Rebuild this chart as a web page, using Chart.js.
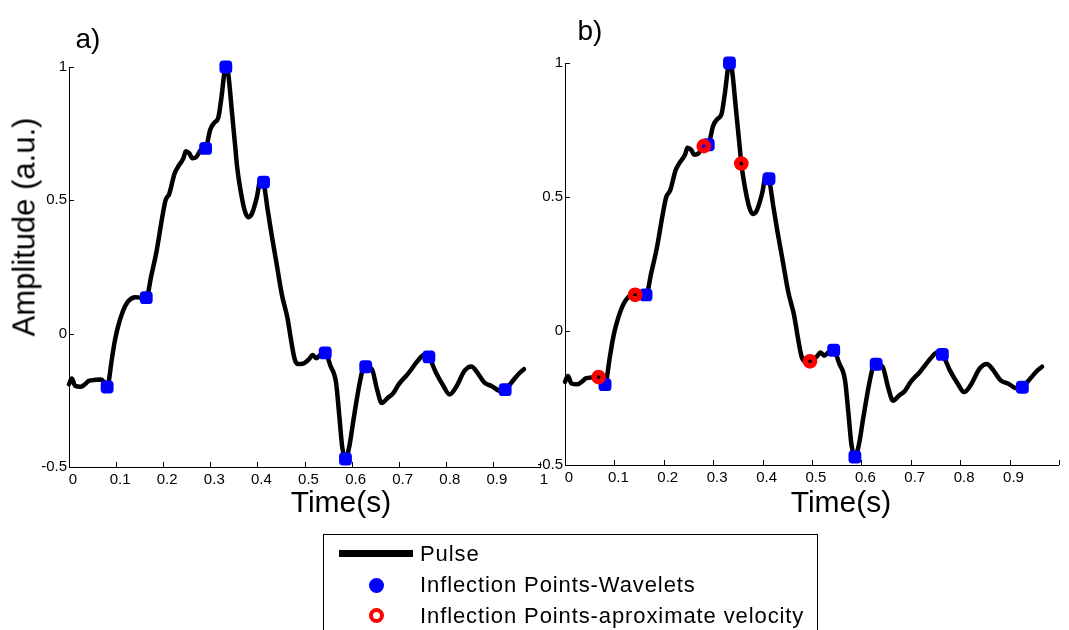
<!DOCTYPE html>
<html>
<head>
<meta charset="utf-8">
<script src="https://cdn.jsdelivr.net/npm/chart.js@4/dist/chart.umd.min.js"></script>
<style>
  body { margin: 0; background: #fff; }
  #wrap { position: relative; width: 1069px; height: 630px; overflow: hidden; font-family: Arial, "Liberation Sans", sans-serif; color: #000; }
  canvas { position: absolute; left: 0; top: 0; }
  .lbl { position: absolute; line-height: 1; white-space: nowrap; transform: translate(-50%, -50%); }
  #legend { position: absolute; left: 323px; top: 534px; width: 495px; height: 120px; border: 1.5px solid #000; box-sizing: border-box; }
  .row { position: absolute; left: 96px; font-size: 22px; letter-spacing: 0.9px; line-height: 1; transform: translateY(-50%); }
  .sw { position: absolute; }
</style>
</head>
<body>
<div id="wrap">
  <canvas id="chartA" width="1069" height="630"></canvas>
  <canvas id="chartB" width="1069" height="630"></canvas>

  <div class="lbl" style="left:88px; top:39px; font-size:28px;">a)</div>
  <div class="lbl" style="left:590px; top:31px; font-size:28px;">b)</div>
  <div class="lbl" style="left:24px; top:227px; font-size:31px; transform: translate(-50%, -50%) rotate(-90deg);">Amplitude (a.u.)</div>
  <div class="lbl" style="left:341px; top:502px; font-size:30px;">Time(s)</div>
  <div class="lbl" style="left:841px; top:502px; font-size:30px;">Time(s)</div>

  <div id="legend">
    <div class="sw" style="left:15px; top:15px; width:74px; height:7px; background:#000;"></div>
    <div class="row" style="top:19px;">Pulse</div>
    <div class="sw" style="left:45px; top:43px; width:15px; height:15px; border-radius:50%; background:#0000ff;"></div>
    <div class="row" style="top:50px;">Inflection Points-Wavelets</div>
    <div class="sw" style="left:45px; top:73px; width:15px; height:15px; border-radius:50%; border:4px solid #ff0000; box-sizing:border-box;"></div>
    <div class="row" style="top:81px;">Inflection Points-aproximate velocity</div>
  </div>
</div>

<script>
// Pulse waveform (time in s, amplitude in a.u.)
const pulseTime = [
  0.000, 0.006, 0.013, 0.025, 0.035, 0.042, 0.057, 0.068, 0.074, 0.081,
  0.091, 0.097, 0.103, 0.114, 0.125, 0.141, 0.152, 0.164, 0.175, 0.186,
  0.198, 0.205, 0.213, 0.224, 0.232, 0.243, 0.248, 0.255, 0.262, 0.270,
  0.281, 0.290, 0.300, 0.308, 0.317, 0.323, 0.333, 0.338, 0.346, 0.353,
  0.357, 0.363, 0.373, 0.380, 0.388, 0.399, 0.407, 0.413, 0.422, 0.430,
  0.441, 0.452, 0.464, 0.471, 0.479, 0.487, 0.496, 0.510, 0.517, 0.525,
  0.532, 0.544, 0.555, 0.567, 0.574, 0.580, 0.587, 0.595, 0.604, 0.616,
  0.624, 0.630, 0.643, 0.654, 0.664, 0.677, 0.688, 0.700, 0.719, 0.741,
  0.753, 0.764, 0.779, 0.795, 0.808, 0.821, 0.840, 0.854, 0.867, 0.882,
  0.897, 0.916, 0.926, 0.939, 0.954, 0.966
];
const pulseAmp = [
  -0.190, -0.168, -0.196, -0.199, -0.188, -0.177, -0.173, -0.172, -0.180, -0.200,
  -0.095, -0.030, 0.019, 0.082, 0.120, 0.137, 0.135, 0.135, 0.220, 0.310,
  0.437, 0.500, 0.525, 0.600, 0.627, 0.658, 0.684, 0.677, 0.658, 0.662,
  0.690, 0.695, 0.766, 0.790, 0.810, 0.877, 1.000, 0.975, 0.830, 0.700,
  0.625, 0.550, 0.462, 0.437, 0.449, 0.513, 0.582, 0.568, 0.462, 0.373,
  0.260, 0.146, 0.057, -0.019, -0.095, -0.114, -0.113, -0.095, -0.080, -0.092,
  -0.082, -0.072, -0.120, -0.184, -0.310, -0.424, -0.470, -0.424, -0.323, -0.196,
  -0.133, -0.124, -0.133, -0.209, -0.260, -0.240, -0.224, -0.190, -0.152, -0.101,
  -0.080, -0.087, -0.146, -0.196, -0.228, -0.203, -0.139, -0.123, -0.146, -0.184,
  -0.196, -0.215, -0.210, -0.184, -0.152, -0.133
];

// Inflection points found with wavelets (both panels)
const waveletTime = [0.081, 0.164, 0.290, 0.333, 0.413, 0.544, 0.587, 0.630, 0.764, 0.926];
const waveletAmp = [-0.200, 0.135, 0.695, 1.000, 0.568, -0.072, -0.470, -0.124, -0.087, -0.210];

// Inflection points from approximate velocity (panel b only)
const velocityTime = [0.068, 0.142, 0.281, 0.357, 0.496];
const velocityAmp = [-0.172, 0.135, 0.690, 0.625, -0.113];

// Axis ticks
const xTicks = [0, 0.1, 0.2, 0.3, 0.4, 0.5, 0.6, 0.7, 0.8, 0.9, 1];
const yTicks = [-0.5, 0, 0.5, 1];

const toPoints = (xs, ys) => xs.map((x, i) => ({ x: x, y: ys[i] }));

// Matlab style tick marks pointing into the plot
const inwardTicks = {
  id: "inwardTicks",
  afterDraw(chart) {
    const { ctx, chartArea } = chart;
    const xs = chart.scales.x;
    const ys = chart.scales.y;
    ctx.save();
    ctx.strokeStyle = "#000";
    ctx.lineWidth = 1;
    ctx.beginPath();
    xs.ticks.forEach((t) => {
      const px = Math.round(xs.getPixelForValue(t.value)) + 0.5;
      ctx.moveTo(px, chartArea.bottom);
      ctx.lineTo(px, chartArea.bottom - 5);
    });
    ys.ticks.forEach((t) => {
      const py = Math.round(ys.getPixelForValue(t.value)) + 0.5;
      ctx.moveTo(chartArea.left, py);
      ctx.lineTo(chartArea.left + 5, py);
    });
    ctx.stroke();
    ctx.restore();
  },
};

function makeChart(canvasId, area, withVelocity, hideLastX) {
  const datasets = [
    {
      label: "Pulse",
      data: toPoints(pulseTime, pulseAmp),
      showLine: true,
      borderColor: "#000",
      borderWidth: 4.5,
      pointRadius: 0,
      cubicInterpolationMode: "monotone",
      borderJoinStyle: "round",
      borderCapStyle: "round",
      order: 3,
      clip: false,
    },
    {
      label: "Inflection Points-Wavelets",
      data: toPoints(waveletTime, waveletAmp),
      pointStyle: "rectRounded",
      pointRadius: 7.5,
      backgroundColor: "#0000ff",
      borderColor: "#0000ff",
      borderWidth: 0,
      order: 2,
      clip: false,
    },
  ];
  if (withVelocity) {
    datasets.push({
      label: "Inflection Points-aproximate velocity",
      data: toPoints(velocityTime, velocityAmp),
      pointStyle: "circle",
      pointRadius: 4.6,
      backgroundColor: "rgba(0,0,0,0)",
      borderColor: "#ff0000",
      borderWidth: 5.5,
      order: 1,
      clip: false,
    });
  }

  const tickFont = { family: "Arial, 'Liberation Sans', sans-serif", size: 15 };

  return new Chart(document.getElementById(canvasId), {
    type: "scatter",
    data: { datasets: datasets },
    options: {
      responsive: false,
      animation: false,
      events: [],
      layout: {
        padding: {
          left: area.left - area.yWidth,
          top: area.top,
          right: 1069 - area.right,
          bottom: 630 - area.bottom - 20,
        },
      },
      plugins: { legend: { display: false }, tooltip: { enabled: false } },
      scales: {
        x: {
          type: "linear",
          min: 0,
          max: 1,
          afterBuildTicks: (scale) => {
            scale.ticks = xTicks.map((v) => ({ value: v }));
          },
          afterFit: (scale) => {
            scale.height = 20;
          },
          ticks: {
            color: "#000",
            font: tickFont,
            padding: 4,
            labelOffset: 4,
            maxRotation: 0,
            autoSkip: false,
            callback: (v) => (hideLastX && v === 1 ? "" : String(Math.round(v * 10) / 10)),
          },
          grid: { display: true, drawOnChartArea: false, drawTicks: false },
          border: { display: true, color: "#000", width: 1 },
        },
        y: {
          type: "linear",
          min: -0.5,
          max: 1,
          afterBuildTicks: (scale) => {
            scale.ticks = yTicks.map((v) => ({ value: v }));
          },
          afterFit: (scale) => {
            scale.width = area.yWidth;
          },
          ticks: {
            color: "#000",
            font: tickFont,
            padding: 2,
            callback: (v) => String(v),
          },
          grid: { display: true, drawOnChartArea: false, drawTicks: false },
          border: { display: true, color: "#000", width: 1 },
        },
      },
    },
    plugins: [inwardTicks],
  });
}

makeChart("chartA", { left: 69, right: 540, top: 67, bottom: 467, yWidth: 69 }, false, false);
makeChart("chartB", { left: 565, right: 1068, top: 63, bottom: 465, yWidth: 40 }, true, true);
</script>
</body>
</html>
